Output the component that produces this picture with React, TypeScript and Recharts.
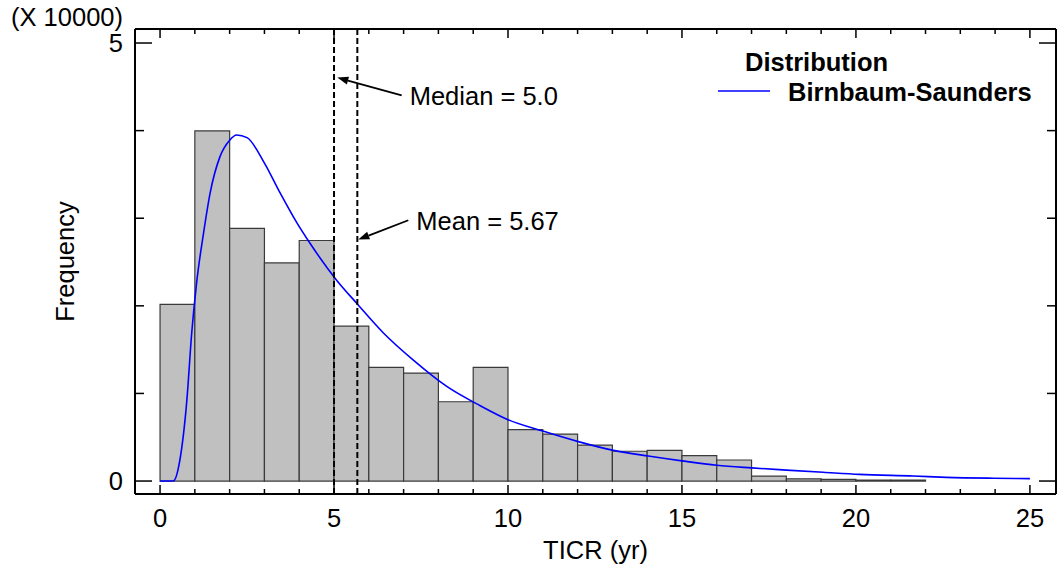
import React from 'react';
import { ComposedChart, Line, XAxis, YAxis, ReferenceArea, ReferenceLine, Legend } from 'recharts';

// histogram bins (width 1 yr), counts
const binStarts = [0, 1, 2, 3, 4, 5, 6, 7, 8, 9, 10, 11, 12, 13, 14, 15, 16, 17, 18, 19, 20, 21];
const binCounts = [
  20160, 39960, 28830, 24900, 27460, 17680, 12970, 12320, 9050, 12970, 5860,
  5360, 4100, 3400, 3500, 2900, 2400, 570, 250, 200, 120, 100,
];

// fitted Birnbaum-Saunders curve
const curveX = [
  0, 0.38, 0.57, 0.77, 0.91, 1.05, 1.25, 1.44, 1.72, 2.0, 2.2, 2.5, 3.0, 3.45, 3.93, 4.3,
  5.08, 5.65, 6.42, 7.28, 8.24, 9.2, 10.0, 11.0, 12.02, 13.03, 14.03, 15.0, 16.0, 17.0,
  18.0, 19.06, 20.1, 21.65, 22.6, 23.95, 25,
];
const curveY = [
  0, 0, 2400, 9200, 16900, 22600, 28300, 32900, 37000, 38900, 39500, 39200, 36300, 32900,
  29500, 27200, 22900, 20300, 16900, 13800, 10800, 8600, 7000, 5700, 4500, 3500, 2850,
  2300, 1800, 1500, 1250, 1000, 760, 570, 420, 320, 280,
];

const xTicks = [0, 1, 2, 3, 4, 5, 6, 7, 8, 9, 10, 11, 12, 13, 14, 15, 16, 17, 18, 19, 20, 21, 22, 23, 24, 25];
const yTicks = [0, 10000, 20000, 30000, 40000, 50000];
const yLabeled = [0, 50000];

const median = 5.0;
const mean = 5.67;
const medianArrow = [{ x: 6.945, y: 44030 }, { x: 5.095, y: 46050 }];
const meanArrow = [{ x: 7.135, y: 29770 }, { x: 5.698, y: 27570 }];

const xDomain = [-0.72, 25.75];
const yDomain = [-1480, 51600];

const FONT = 'Liberation Sans, Arial, sans-serif';
const FS = 25.5;

const curveData = curveX.map((t, i) => ({ t, f: curveY[i] }));

const BottomTick = (props: any) => {
  const { x, y, payload } = props;
  const major = payload.value % 5 === 0;
  return (
    <g>
      <line x1={x} x2={x} y1={y} y2={y - (major ? 9 : 5)} stroke="#000" strokeWidth={1.5} />
      {major && (
        <text x={x} y={y + 24} textAnchor="middle" dominantBaseline="central" fontFamily={FONT} fontSize={FS} fill="#000">
          {payload.value}
        </text>
      )}
    </g>
  );
};

const TopTick = (props: any) => {
  const { x, y, payload } = props;
  const major = payload.value % 5 === 0;
  return <line x1={x} x2={x} y1={y} y2={y + (major ? 9 : 5)} stroke="#000" strokeWidth={1.5} />;
};

const LeftTick = (props: any) => {
  const { x, y, payload } = props;
  const labeled = yLabeled.includes(payload.value);
  return (
    <g>
      <line x1={x} x2={x + (labeled ? 17 : 9)} y1={y} y2={y} stroke="#000" strokeWidth={1.5} />
      {labeled && (
        <text x={x - 12} y={y} textAnchor="end" dominantBaseline="central" fontFamily={FONT} fontSize={FS} fill="#000">
          {payload.value / 10000}
        </text>
      )}
    </g>
  );
};

const RightTick = (props: any) => {
  const { x, y, payload } = props;
  const labeled = yLabeled.includes(payload.value);
  return <line x1={x} x2={x - (labeled ? 17 : 9)} y1={y} y2={y} stroke="#000" strokeWidth={1.5} />;
};

const Arrow = (label: string) => (props: any) => {
  const { x1, y1, x2, y2 } = props;
  const ang = Math.atan2(y2 - y1, x2 - x1);
  const len = 11;
  const w = 4;
  const bx = x2 - len * Math.cos(ang);
  const by = y2 - len * Math.sin(ang);
  const px = -Math.sin(ang) * w;
  const py = Math.cos(ang) * w;
  return (
    <g>
      <line x1={x1} y1={y1} x2={bx} y2={by} stroke="#000" strokeWidth={1.8} />
      <polygon points={`${x2},${y2} ${bx + px},${by + py} ${bx - px},${by - py}`} fill="#000" />
      <text x={x1 + 8} y={y1 + 1} dominantBaseline="central" fontFamily={FONT} fontSize={FS} fill="#000">
        {label}
      </text>
    </g>
  );
};

const LegendBox = () => (
  <svg width={345} height={70} style={{ display: 'block' }}>
    <text x={33} y={17} dominantBaseline="central" fontFamily={FONT} fontSize={FS} fontWeight="bold" fill="#000">
      Distribution
    </text>
    <line x1={6} x2={58} y1={46} y2={46} stroke="#0000ff" strokeWidth={1.5} />
    <text x={76} y={47} dominantBaseline="central" fontFamily={FONT} fontSize={FS} fontWeight="bold" fill="#000">
      Birnbaum-Saunders
    </text>
  </svg>
);

const YLabel = (props: any) => {
  const { viewBox } = props;
  const cx = viewBox.x - 10;
  const cy = viewBox.y + viewBox.height / 2;
  return (
    <g>
      <text x={cx} y={cy} transform={`rotate(-90, ${cx}, ${cy})`} textAnchor="middle" dominantBaseline="central" fontFamily={FONT} fontSize={FS} fill="#000">
        Frequency
      </text>
      <text x={11} y={17} dominantBaseline="central" fontFamily={FONT} fontSize={FS} fill="#000">
        (X 10000)
      </text>
    </g>
  );
};

const XLabel = (props: any) => {
  const { viewBox } = props;
  return (
    <text x={viewBox.x + viewBox.width / 2} y={viewBox.y + 56} textAnchor="middle" dominantBaseline="central" fontFamily={FONT} fontSize={FS} fill="#000">
      TICR (yr)
    </text>
  );
};

export default function App() {
  return (
    <div style={{ position: 'absolute', left: 0, top: 0, background: '#fff' }}>
      <ComposedChart width={1058} height={571} data={curveData} margin={{ top: 28, right: 1, bottom: 37, left: 75 }}>
        <XAxis
          dataKey="t"
          type="number"
          domain={xDomain}
          allowDataOverflow
          ticks={xTicks}
          interval={0}
          tickSize={0}
          tickMargin={0}
          tickLine={false}
          tick={<BottomTick />}
          height={40}
          axisLine={{ stroke: '#000', strokeWidth: 2 }}
          label={<XLabel />}
        />
        <XAxis
          xAxisId="top"
          dataKey="t"
          orientation="top"
          type="number"
          domain={xDomain}
          allowDataOverflow
          ticks={xTicks}
          interval={0}
          tickSize={0}
          tickMargin={0}
          tickLine={false}
          tick={<TopTick />}
          height={1}
          axisLine={{ stroke: '#000', strokeWidth: 2 }}
        />
        <YAxis
          type="number"
          domain={yDomain}
          allowDataOverflow
          ticks={yTicks}
          interval={0}
          tickSize={0}
          tickMargin={0}
          tickLine={false}
          tick={<LeftTick />}
          width={60}
          axisLine={{ stroke: '#000', strokeWidth: 2 }}
          label={<YLabel />}
        />
        <YAxis
          yAxisId="right"
          orientation="right"
          type="number"
          domain={yDomain}
          allowDataOverflow
          ticks={yTicks}
          interval={0}
          tickSize={0}
          tickMargin={0}
          tickLine={false}
          tick={<RightTick />}
          width={1}
          axisLine={{ stroke: '#000', strokeWidth: 2 }}
        />
        {binStarts.map((b, i) => (
          <ReferenceArea
            key={b}
            x1={b}
            x2={b + 1}
            y1={0}
            y2={binCounts[i]}
            fill="#c0c0c0"
            fillOpacity={1}
            stroke="#3a3a3a"
            strokeWidth={1.2}
          />
        ))}
        {/* invisible copy so the frame axes (top / right) get a series */}
        <Line
          xAxisId="top"
          yAxisId="right"
          dataKey="f"
          stroke="none"
          dot={false}
          legendType="none"
          isAnimationActive={false}
        />
        <Line
          dataKey="f"
          name="Birnbaum-Saunders"
          type="monotone"
          stroke="#0000ff"
          strokeWidth={1.6}
          dot={false}
          isAnimationActive={false}
        />
        <ReferenceLine x={median} stroke="#000" strokeWidth={2} strokeDasharray="6 3" />
        <ReferenceLine x={mean} stroke="#000" strokeWidth={2} strokeDasharray="6 3" />
        <ReferenceLine segment={medianArrow} shape={Arrow('Median = 5.0')} />
        <ReferenceLine segment={meanArrow} shape={Arrow('Mean = 5.67')} />
        <Legend
          layout="vertical"
          verticalAlign="middle"
          align="center"
          wrapperStyle={{ position: 'absolute', top: 45, left: 712, width: 345 }}
          content={() => <LegendBox />}
        />
      </ComposedChart>
    </div>
  );
}
